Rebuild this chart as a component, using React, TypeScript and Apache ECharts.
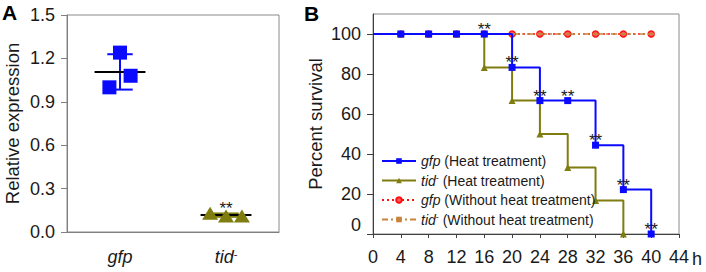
import React, { useEffect, useRef } from 'react';
import * as echarts from 'echarts';

// ---- Panel A data ----
const groupsA = ['gfp', 'tid-'];
const gfpExpression = [1.0, 1.24, 1.08];
const tidExpression = [0.13, 0.11, 0.11];
const gfpJitter = [-0.1, 0, 0.1];
const tidJitter = [-0.15, 0, 0.15];

// ---- Panel B data ----
const hours = [0, 4, 8, 12, 16, 20, 24, 28, 32, 36, 40];
const gfpHeat = [100, 100, 100, 100, 100, 83.3, 66.7, 66.7, 44.4, 22.2, 0];
const tidHeatHours = [0, 4, 8, 12, 16, 20, 24, 28, 32, 36];
const tidHeat = [100, 100, 100, 100, 83.3, 66.7, 50, 33.3, 16.7, 0];
const gfpNoHeat = [100, 100, 100, 100, 100, 100, 100, 100, 100, 100, 100];
const tidNoHeat = [100, 100, 100, 100, 100, 100, 100, 100, 100, 100, 100];
const starHours = [16, 20, 24, 28, 32, 36, 40];

const seriesNamesB = [
  'gfp (Heat treatment)',
  'tid- (Heat treatment)',
  'gfp (Without heat treatment)',
  'tid- (Without heat treatment)',
];

const FONT = '"Liberation Sans", Arial, sans-serif';
const BLUE = '#0a0aff';
const OLIVE = '#7f7d10';
const RED = '#ff1010';
const BROWN = '#c8843c';
const TEXT = '#1a1a1a';

function mean(a: number[]) {
  return a.reduce((s, v) => s + v, 0) / a.length;
}
function sd(a: number[]) {
  const m = mean(a);
  return Math.sqrt(a.reduce((s, v) => s + (v - m) * (v - m), 0) / (a.length - 1));
}

function richName(name: string) {
  let rest = name;
  let head = '';
  if (rest.startsWith('gfp')) {
    head = '{i|gfp}';
    rest = rest.slice(3);
  } else if (rest.startsWith('tid-')) {
    head = '{i|tid}{s|-}';
    rest = rest.slice(4);
  }
  return rest ? head + '{n|' + rest + '}' : head;
}

export default function App() {
  const ref = useRef<HTMLDivElement>(null);
  useEffect(() => {
    if (!ref.current) return;
    const chart = echarts.init(ref.current, null, { renderer: 'svg' });

    const statsA = [
      [0.5, mean(gfpExpression), sd(gfpExpression), 0],
      [1.5, mean(tidExpression), sd(tidExpression), 1],
    ];

    const starLabel = {
      show: true,
      formatter: '**',
      position: 'top',
      distance: -7.5,
      color: TEXT,
      fontSize: 17,
      fontFamily: FONT,
    };

    const option: any = {
      animation: false,
      textStyle: { fontFamily: FONT },
      grid: [
        { left: 67, top: 15, width: 212, height: 217, show: true, borderColor: '#8a8a8a', borderWidth: 1 },
        { left: 373, top: 14, width: 306, height: 220, show: true, borderColor: '#8a8a8a', borderWidth: 1 },
      ],
      xAxis: [
        {
          type: 'category',
          gridIndex: 0,
          data: groupsA,
          axisLine: { lineStyle: { color: '#808080', width: 1 } },
          axisTick: { alignWithLabel: true, length: 5, lineStyle: { color: '#606060' } },
          axisLabel: {
            margin: 16,
            color: TEXT,
            formatter: (v: string) => richName(v),
            rich: {
              i: { fontStyle: 'italic', fontSize: 18, fontFamily: FONT, color: TEXT },
              s: { fontSize: 11, fontFamily: FONT, color: TEXT, verticalAlign: 'top' },
            },
          },
        },
        { type: 'value', gridIndex: 0, min: 0, max: 2, show: false },
        {
          type: 'value',
          gridIndex: 1,
          min: 0,
          max: 44,
          interval: 4,
          splitLine: { show: false },
          axisLine: { lineStyle: { color: '#404040', width: 1 } },
          axisTick: { length: 4, lineStyle: { color: '#404040' } },
          axisLabel: { margin: 14, fontSize: 18, color: TEXT, fontFamily: FONT },
        },
      ],
      yAxis: [
        {
          type: 'value',
          gridIndex: 0,
          min: 0,
          max: 1.5,
          interval: 0.3,
          name: 'Relative expression',
          nameLocation: 'middle',
          nameGap: 45,
          nameTextStyle: { fontSize: 18.5, color: TEXT, fontFamily: FONT },
          splitLine: { show: false },
          axisLine: { show: true, lineStyle: { color: '#808080', width: 1 } },
          axisTick: { show: true, length: 6, lineStyle: { color: '#808080' } },
          axisLabel: { margin: 12, fontSize: 18, color: TEXT, fontFamily: FONT, formatter: (v: number) => v.toFixed(1) },
        },
        {
          type: 'value',
          gridIndex: 1,
          min: 0,
          max: 110,
          interval: 20,
          name: 'Percent survival',
          nameLocation: 'middle',
          nameGap: 48,
          nameTextStyle: { fontSize: 18.5, color: TEXT, fontFamily: FONT },
          splitLine: { show: false },
          axisLine: { show: true, lineStyle: { color: '#404040', width: 1 } },
          axisTick: { show: true, length: 6, lineStyle: { color: '#404040' } },
          axisLabel: {
            margin: 12,
            fontSize: 18,
            color: TEXT,
            fontFamily: FONT,
            showMaxLabel: false,
            formatter: (v: number) => (v === 0 ? '{z|0}' : v > 100 ? '' : String(v)),
            rich: { z: { fontSize: 18, color: TEXT, fontFamily: FONT, padding: [0, 0, 18, 0] } },
          },
        },
      ],
      legend: {
        orient: 'vertical',
        left: 376,
        top: 149,
        itemWidth: 34,
        itemHeight: 7,
        itemGap: 5.5,
        data: seriesNamesB,
        formatter: (name: string) => richName(name),
        textStyle: {
          fontSize: 14,
          color: TEXT,
          fontFamily: FONT,
          rich: {
            i: { fontStyle: 'italic', fontSize: 14, fontFamily: FONT, color: TEXT, lineHeight: 14 },
            s: { fontSize: 9, fontFamily: FONT, color: TEXT, verticalAlign: 'top', lineHeight: 14 },
            n: { fontSize: 14, fontFamily: FONT, color: TEXT, lineHeight: 14 },
          },
        },
      },
      series: [
        {
          type: 'custom',
          xAxisIndex: 1,
          yAxisIndex: 0,
          z: 1,
          data: statsA,
          renderItem: (params: any, api: any) => {
            const xc = api.value(0);
            const m = api.value(1);
            const s = api.value(2);
            const idx = api.value(3);
            const color = idx === 0 ? BLUE : OLIVE;
            const pTop = api.coord([xc, m + s]);
            const pBot = api.coord([xc, m - s]);
            const capL = api.coord([xc - 0.12, 0])[0];
            const capR = api.coord([xc + 0.12, 0])[0];
            const mL = api.coord([xc - 0.24, m]);
            const mR = api.coord([xc + 0.24, m]);
            const children: any[] = [
              { type: 'line', shape: { x1: pTop[0], y1: pTop[1], x2: pBot[0], y2: pBot[1] }, style: { stroke: color, lineWidth: 2 } },
              { type: 'line', shape: { x1: capL, y1: pTop[1], x2: capR, y2: pTop[1] }, style: { stroke: color, lineWidth: 2 } },
              { type: 'line', shape: { x1: capL, y1: pBot[1], x2: capR, y2: pBot[1] }, style: { stroke: color, lineWidth: 2 } },
              { type: 'line', shape: { x1: mL[0], y1: mL[1], x2: mR[0], y2: mR[1] }, style: { stroke: '#000', lineWidth: 2 } },
            ];
            if (idx === 1) {
              children.push({
                type: 'text',
                style: { text: '**', x: mL[0] + (mR[0] - mL[0]) / 2, y: mL[1] - 15, align: 'center', fontSize: 17, fontFamily: FONT, fill: TEXT },
              });
            }
            return { type: 'group', children };
          },
        },
        {
          type: 'scatter',
          name: 'gfpA',
          xAxisIndex: 1,
          yAxisIndex: 0,
          z: 3,
          symbol: 'rect',
          symbolSize: 14,
          itemStyle: { color: BLUE, opacity: 1 },
          data: gfpExpression.map((v, i) => [0.5 + gfpJitter[i], v]),
        },
        {
          type: 'scatter',
          name: 'tidA',
          xAxisIndex: 1,
          yAxisIndex: 0,
          z: 3,
          symbol: 'triangle',
          symbolSize: [16, 13],
          itemStyle: { color: OLIVE, opacity: 1 },
          data: tidExpression.map((v, i) => [1.5 + tidJitter[i], v]),
        },
        {
          type: 'line',
          name: seriesNamesB[2],
          xAxisIndex: 2,
          yAxisIndex: 1,
          z: 2,
          symbol: 'circle',
          symbolSize: 6,
          showAllSymbol: true,
          itemStyle: { color: '#ff5a5a', borderColor: RED, borderWidth: 1.5 },
          lineStyle: { color: RED, width: 1.5, type: [2, 3] },
          data: hours.map((h, i) => ({ value: [h, gfpNoHeat[i]], symbol: i === 0 ? 'none' : 'circle' })),
        },
        {
          type: 'line',
          name: seriesNamesB[3],
          xAxisIndex: 2,
          yAxisIndex: 1,
          z: 2,
          symbol: 'rect',
          symbolSize: [6, 2],
          showAllSymbol: true,
          itemStyle: { color: BROWN },
          lineStyle: { color: BROWN, width: 1.5, type: [6, 3, 2, 3] },
          data: hours.map((h, i) => ({ value: [h, tidNoHeat[i]], symbol: i === 0 ? 'none' : 'rect' })),
        },
        {
          type: 'line',
          name: seriesNamesB[1],
          xAxisIndex: 2,
          yAxisIndex: 1,
          z: 3,
          step: 'end',
          symbol: 'triangle',
          symbolSize: 7,
          showAllSymbol: true,
          itemStyle: { color: OLIVE },
          lineStyle: { color: OLIVE, width: 2 },
          data: tidHeatHours.map((h, i) => ({ value: [h, tidHeat[i]], symbol: i === 0 ? 'none' : 'triangle' })),
        },
        {
          type: 'line',
          name: seriesNamesB[0],
          xAxisIndex: 2,
          yAxisIndex: 1,
          z: 4,
          step: 'end',
          symbol: 'rect',
          symbolSize: 7,
          showAllSymbol: true,
          itemStyle: { color: BLUE },
          lineStyle: { color: BLUE, width: 2 },
          data: hours.map((h, i) => ({
            value: [h, gfpHeat[i]],
            symbol: i === 0 ? 'none' : 'rect',
            label: starHours.includes(h) ? starLabel : { show: false },
          })),
        },
      ],
      graphic: [
        { type: 'text', left: 2, top: 2, style: { text: 'A', fontSize: 21, fontWeight: 'bold', fontFamily: FONT, fill: '#000' } },
        { type: 'text', left: 304, top: 3, style: { text: 'B', fontSize: 21, fontWeight: 'bold', fontFamily: FONT, fill: '#000' } },
        { type: 'text', left: 692, top: 250, style: { text: 'h', fontSize: 18, fontFamily: FONT, fill: TEXT } },
      ],
    };

    chart.setOption(option);
    return () => chart.dispose();
  }, []);

  return <div ref={ref} style={{ position: 'fixed', left: 0, top: 0, width: 706, height: 272, background: '#fff' }} />;
}
